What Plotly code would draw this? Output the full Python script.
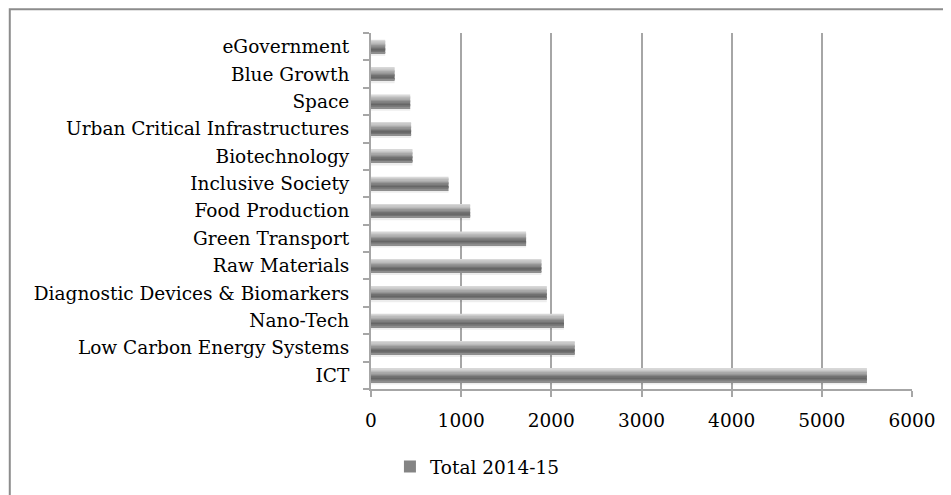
import plotly.graph_objects as go

categories = ["ICT", "Low Carbon Energy Systems", "Nano-Tech", "Diagnostic Devices & Biomarkers",
              "Raw Materials", "Green Transport", "Food Production", "Inclusive Society",
              "Biotechnology", "Urban Critical Infrastructures", "Space", "Blue Growth", "eGovernment"]
values = [5500, 2260, 2140, 1950, 1890, 1720, 1100, 860, 460, 445, 435, 262, 158]
series_name = "Total 2014-15"
x_ticks = [0, 1000, 2000, 3000, 4000, 5000, 6000]

FONT = "DejaVu Serif"
FS = 18.5
# gradient slices, top to bottom
slice_colors = ['#d8d8d8', '#cacaca', '#bbbbbb', '#aaaaaa', '#979797',
                '#848484', '#727272', '#666666', '#737373', '#8e8e8e']
bar_half = 0.245
slice_w = 0.049

fig = go.Figure()
# shadow
fig.add_trace(go.Bar(y=categories, x=values, orientation='h', offset=-bar_half - 0.09, width=0.1,
                     marker=dict(color='rgba(0,0,0,0.07)', line=dict(width=0)),
                     showlegend=False, hoverinfo='skip'))
for i, c in enumerate(slice_colors):
    fig.add_trace(go.Bar(y=categories, x=values, orientation='h',
                         offset=bar_half - (i + 1) * slice_w, width=slice_w + 0.006,
                         marker=dict(color=c, line=dict(width=0)),
                         name=series_name, showlegend=(i == 5)))

fig.update_layout(
    width=951, height=495,
    margin=dict(l=363, r=47, t=25, b=114),
    paper_bgcolor='white', plot_bgcolor='white',
    barmode='overlay',
    font=dict(family=FONT, size=FS, color='#000000'),
    showlegend=True,
    legend=dict(orientation='h', x=0.035, xanchor='left', y=-0.219, yanchor='middle',
                bgcolor='rgba(0,0,0,0)',
                font=dict(family=FONT, size=FS, color='#000000'), itemwidth=30),
    xaxis=dict(range=[0, 6000], tickvals=x_ticks, showgrid=True, gridcolor='#a6a6a6', gridwidth=1.5,
               showline=True, linecolor='#a6a6a6', linewidth=2, ticks='outside', ticklen=6,
               tickcolor='#a6a6a6', tickwidth=1.5, zeroline=False, ticklabelstandoff=8,
               tickfont=dict(family=FONT, size=FS)),
    yaxis=dict(type='category', showline=True, linecolor='#a6a6a6', linewidth=2,
               ticks='outside', tickson='boundaries', ticklen=6, tickcolor='#a6a6a6', tickwidth=1.5,
               showgrid=False, ticklabelstandoff=16, range=[-0.5, 12.5],
               tickfont=dict(family=FONT, size=FS)),
    shapes=[dict(type='rect', xref='paper', yref='paper', x0=-0.6677, x1=1.3, y0=-0.4, y1=1.067,
                 line=dict(color='#8c8c8c', width=2), fillcolor='rgba(0,0,0,0)', layer='below')],
)

fig.write_html("out.html")
